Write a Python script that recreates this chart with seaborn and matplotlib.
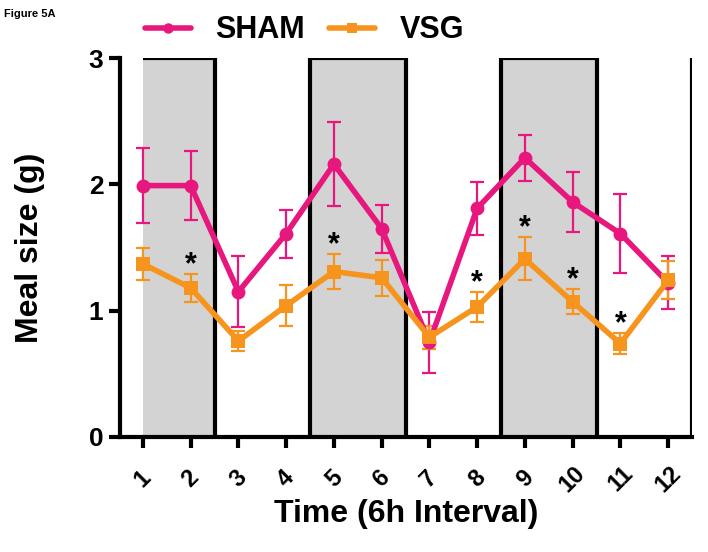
import numpy as np
import pandas as pd
import matplotlib
matplotlib.use("Agg")
import matplotlib.pyplot as plt
import seaborn as sns

# values (mean +/- SEM)
time_pts = [1, 2, 3, 4, 5, 6, 7, 8, 9, 10, 11, 12]
sham_mean = [1.99, 1.99, 1.15, 1.61, 2.16, 1.65, 0.75, 1.81, 2.21, 1.86, 1.61, 1.22]
sham_sem = [0.30, 0.27, 0.28, 0.19, 0.33, 0.19, 0.24, 0.21, 0.18, 0.24, 0.31, 0.21]
vsg_mean = [1.37, 1.18, 0.76, 1.04, 1.31, 1.26, 0.79, 1.03, 1.41, 1.07, 0.74, 1.24]
vsg_sem = [0.13, 0.11, 0.08, 0.16, 0.14, 0.14, 0.09, 0.12, 0.17, 0.10, 0.08, 0.15]
signif = [2, 5, 8, 9, 10, 11]   # asterisks over VSG
dark_periods = [(1, 2.5), (4.5, 6.5), (8.5, 10.5)]
light_edges = [2.5, 4.5, 6.5, 8.5, 10.5, 12.5]

sham_col = "#E8177D"
vsg_col = "#F7941D"

sns.set_style("ticks")
plt.rcParams['font.family'] = ['Liberation Sans', 'DejaVu Sans']
plt.rcParams['font.weight'] = 'bold'
for k in ['text.color', 'axes.labelcolor', 'xtick.color', 'ytick.color', 'axes.edgecolor']:
    plt.rcParams[k] = 'black'

df = pd.DataFrame({
    "time": time_pts * 2,
    "size": sham_mean + vsg_mean,
    "group": ["SHAM"] * 12 + ["VSG"] * 12,
})

fig = plt.figure(figsize=(7.08, 5.52), dpi=100)
ax = fig.add_axes([120 / 708, 1 - 437 / 552, 572 / 708, 379 / 552])

# dark phase boxes
for a, b in dark_periods:
    ax.axvspan(a, b, ymin=0, ymax=1, color="#D3D3D3", zorder=0, lw=0)
    ax.plot([a, b], [3, 3], color="black", lw=3, zorder=1, solid_capstyle="butt")
for e in light_edges:
    ax.plot([e, e], [0, 3], color="black", lw=3, zorder=1, solid_capstyle="butt")

ax.errorbar(time_pts, sham_mean, yerr=sham_sem, fmt="none", ecolor=sham_col,
            elinewidth=1.6, capsize=5, capthick=1.6, zorder=3)
ax.errorbar(time_pts, vsg_mean, yerr=vsg_sem, fmt="none", ecolor=vsg_col,
            elinewidth=1.6, capsize=5, capthick=1.6, zorder=3)

sns.lineplot(data=df, x="time", y="size", hue="group", style="group",
             palette={"SHAM": sham_col, "VSG": vsg_col},
             markers={"SHAM": "o", "VSG": "s"}, dashes=False,
             markersize=10, markeredgewidth=0, linewidth=4, ax=ax, zorder=4)

for t in signif:
    i = time_pts.index(t)
    ax.text(t, vsg_mean[i] + vsg_sem[i] - 0.05, "*", ha="center", va="bottom",
            fontsize=22, fontweight="bold", color="black", zorder=5)

ax.set_xlim(0.52, 12.5)
ax.set_ylim(0, 3)
ax.set_yticks([0, 1, 2, 3])
ax.set_xticks(time_pts)
ax.set_xticklabels([str(t) for t in time_pts], rotation=45, ha="center",
                   va="center", fontsize=17, fontweight="bold")
ax.set_yticklabels(["0", "1", "2", "3"], fontsize=19, fontweight="bold")
ax.tick_params(axis="both", length=8, width=3, color="black", pad=4)
ax.tick_params(axis="x", pad=22)

sns.despine(ax=ax, top=True, right=True)
ax.spines["left"].set_linewidth(3)
ax.spines["bottom"].set_linewidth(3)

ax.set_xlabel("Time (6h Interval)", fontsize=23, fontweight="bold", labelpad=2)
ax.set_ylabel("Meal size (g)", fontsize=23, fontweight="bold")
ax.yaxis.set_label_coords(-0.131, 0.5)

handles, labels = ax.get_legend_handles_labels()
ax.legend_.remove()
fig.legend(handles, labels, loc="center", bbox_to_anchor=(0.43, 0.945), ncol=2,
           frameon=False, prop={"size": 22, "weight": "bold"}, handlelength=1.5,
           markerscale=0.75, columnspacing=0.8, handletextpad=0.8)

fig.text(0.005, 0.975, "Figure 5A", fontsize=8, fontweight="bold", va="center")

fig.savefig("out.png", dpi=100)
